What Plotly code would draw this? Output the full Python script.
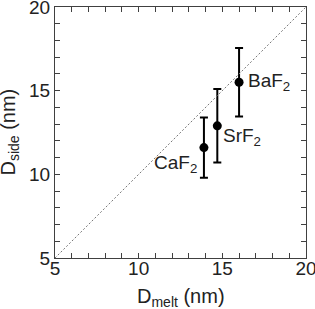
import plotly.graph_objects as go

materials = ["CaF<sub>2</sub>", "SrF<sub>2</sub>", "BaF<sub>2</sub>"]
d_melt = [13.9, 14.7, 16.0]
d_side = [11.6, 12.9, 15.5]
d_side_err = [1.8, 2.2, 2.05]
diag = [5, 20]
tick_vals = [5, 10, 15, 20]

FONT = "Liberation Sans, Arial, sans-serif"
AX = "#404040"
TXT = "#222222"
FS = 19

fig = go.Figure()
# diagonal on the mirrored axes so they are always drawn
fig.add_trace(go.Scatter(x=diag, y=diag, mode="lines", xaxis="x2", yaxis="y2",
                         line=dict(color="#777777", width=1, dash="2px,2px"),
                         hoverinfo="skip", showlegend=False))
fig.add_trace(go.Scatter(x=d_melt, y=d_side, mode="markers",
                         marker=dict(color="black", size=9),
                         error_y=dict(type="data", array=d_side_err, visible=True,
                                      color="black", thickness=2, width=4),
                         showlegend=False))

# (xanchor, xshift, yshift)
label_pos = [("right", -5, -16), ("left", 4, -11), ("left", 7, 0)]
for name, x, y, (xa, dx, dy) in zip(materials, d_melt, d_side, label_pos):
    fig.add_annotation(x=x, y=y, text=name, showarrow=False,
                       xanchor=xa, yanchor="middle", xshift=dx, yshift=dy,
                       font=dict(family=FONT, size=FS, color=TXT))

rng = [4.9999, 20.0001]
axis_common = dict(range=rng, tickvals=tick_vals, ticks="inside", ticklen=5,
                   tickcolor=AX, showline=True, linecolor=AX, linewidth=1.2,
                   showgrid=False, zeroline=False, automargin=False,
                   ticklabeloverflow="allow",
                   minor=dict(dtick=1, ticks="inside", ticklen=5, tickcolor=AX, showgrid=False),
                   tickfont=dict(family=FONT, size=FS, color=TXT))

fig.update_layout(xaxis=dict(**axis_common, ticklabelstandoff=-7),
                  yaxis=dict(**axis_common))

# mirrored axes for ticks on top and right
mirror_common = dict(range=rng, tickvals=tick_vals, ticks="inside", ticklen=5,
                     tickcolor=AX, showline=True, linecolor=AX, linewidth=1.2,
                     showgrid=False, zeroline=False, showticklabels=False,
                     automargin=False,
                     minor=dict(dtick=1, ticks="inside", ticklen=5, tickcolor=AX, showgrid=False))
fig.update_layout(
    xaxis2=dict(**mirror_common, overlaying="x", side="top", anchor="y2"),
    yaxis2=dict(**mirror_common, overlaying="y", side="right", anchor="x2"),
)

fig.add_annotation(xref="paper", yref="paper", x=0.5, y=-0.10, yanchor="top",
                   text="D<sub>melt</sub> (nm)", showarrow=False,
                   font=dict(family=FONT, size=20, color=TXT))
fig.add_annotation(xref="paper", yref="paper", x=-0.183, y=0.5, xanchor="center",
                   text="D<sub>side</sub> (nm)", showarrow=False, textangle=-90,
                   font=dict(family=FONT, size=20, color=TXT))

fig.update_layout(width=315, height=309, margin=dict(l=55, r=9, t=7, b=51),
                  plot_bgcolor="white", paper_bgcolor="white")
fig.write_html("out.html", config={"displayModeBar": False},
               post_script="document.body.style.margin='0';document.body.style.overflow='hidden';")
